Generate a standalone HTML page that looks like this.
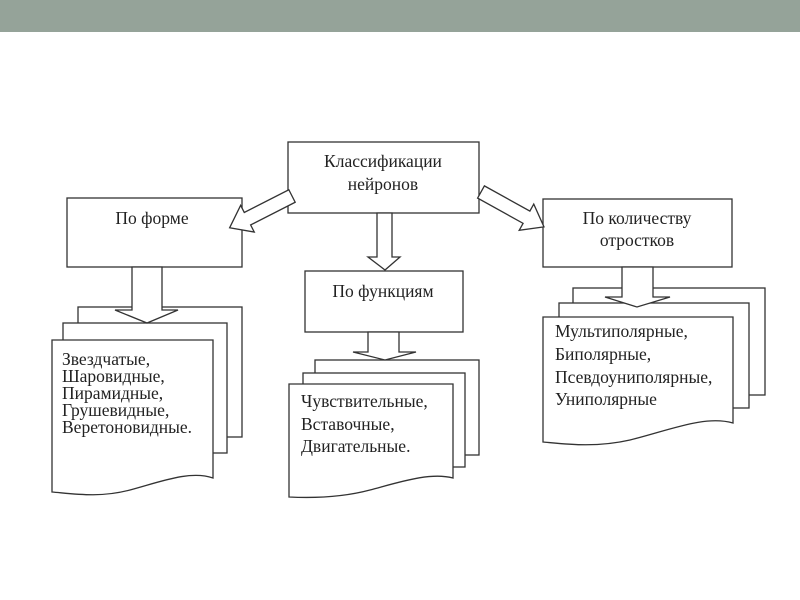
<!DOCTYPE html>
<html><head><meta charset="utf-8"><style>
html,body{margin:0;padding:0;background:#fff;width:800px;height:600px;overflow:hidden}
svg{display:block}
text{font-family:"Liberation Serif","DejaVu Serif",serif;font-size:17.5px;fill:#222}
</style></head><body>
<svg width="800" height="600" viewBox="0 0 800 600">
<rect x="0" y="0" width="800" height="32" fill="#95a399"/>
<g fill="#fff" stroke="#333" stroke-width="1.3">
<rect x="288" y="142" width="191" height="71"/>
<rect x="67" y="198" width="175" height="69"/>
<rect x="305" y="271" width="158" height="61"/>
<rect x="543" y="199" width="189" height="68"/>

<rect x="78" y="307" width="164" height="130"/>
<rect x="63" y="323" width="164" height="130"/>
<polygon points="132,267 162,267 162,310 178,310 147,323 115,310 132,310"/>
<path d="M52,340 H213 V478 C190,470 160,482 130,490 C100,498 75,494 52,492 Z"/>

<rect x="315" y="360" width="164" height="95"/>
<rect x="303" y="373" width="162" height="94"/>
<polygon points="368,332 399,332 399,352 416,352 385,360 353,352 368,352"/>
<path d="M289,384 H453 V478 C430,472 400,482 370,490 C340,498 310,498 289,497 Z"/>

<rect x="573" y="288" width="192" height="107"/>
<rect x="559" y="303" width="190" height="105"/>
<polygon points="622,267 653,267 653,297 670,297 637,307 605,297 622,297"/>
<path d="M543,317 H733 V423 C705,415 670,430 630,440 C595,448 565,444 543,442 Z"/>

<polygon points="377,213 392,213 392,257 400,257 385,270 368,257 377,257"/>
<g transform="translate(292,196) rotate(153)">
<polygon points="0,-7 50,-7 50,-15 70,0 50,15 50,7 0,7"/>
</g>
<g transform="translate(481,192) rotate(29)">
<polygon points="0,-7 52,-7 52,-15 72,0 52,15 52,7 0,7"/>
</g>
</g>

<text x="383" y="167" text-anchor="middle">Классификации</text>
<text x="383" y="190" text-anchor="middle">нейронов</text>
<text x="152" y="224" text-anchor="middle">По форме</text>
<text x="383" y="297" text-anchor="middle">По функциям</text>
<text x="637" y="224" text-anchor="middle">По количеству</text>
<text x="637" y="246" text-anchor="middle">отростков</text>

<text x="62" y="365">Звездчатые,</text>
<text x="62" y="382">Шаровидные,</text>
<text x="62" y="399">Пирамидные,</text>
<text x="62" y="416">Грушевидные,</text>
<text x="62" y="433">Веретоновидные.</text>

<text x="301" y="407">Чувствительные,</text>
<text x="301" y="430">Вставочные,</text>
<text x="301" y="452">Двигательные.</text>

<text x="555" y="337">Мультиполярные,</text>
<text x="555" y="360">Биполярные,</text>
<text x="555" y="383">Псевдоуниполярные,</text>
<text x="555" y="405">Униполярные</text>
</svg>
</body></html>
